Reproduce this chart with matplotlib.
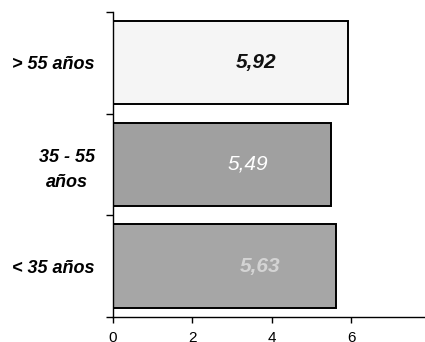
import matplotlib.pyplot as plt

plt.rcParams['font.family'] = ['Liberation Sans', 'DejaVu Sans']

# data, bottom to top
groups = ['< 35 años', '35 - 55\naños', '> 55 años']
values = [5.63, 5.49, 5.92]
value_labels = ['5,63', '5,49', '5,92']

# styling per bar
bar_colors = ['#a6a6a6', '#a0a0a0', '#f5f5f5']
label_colors = ['#d4d4d4', '#ffffff', '#111111']
label_weights = ['bold', 'normal', 'bold']
label_x = [3.7, 3.4, 3.6]

fig = plt.figure(figsize=(4.25, 3.42), dpi=100)
ax = fig.add_axes([0.266, 0.0731, 0.734, 0.892])

pos = list(range(len(groups)))
ax.barh(pos, values, height=0.82, color=bar_colors, edgecolor='black', linewidth=1.4)

for i, txt in enumerate(value_labels):
	ax.text(label_x[i], pos[i], txt, ha='center', va='center', fontsize=15,
			style='italic', weight=label_weights[i], color=label_colors[i])

ax.set_xlim(0, 7.86)
ax.set_ylim(-0.5, 2.5)

ax.set_xticks([0, 2, 4, 6])
ax.tick_params(axis='x', length=4, width=1, pad=6, labelsize=11)

# category labels at centers, tick marks at boundaries
ax.set_yticks(pos)
ax.set_yticklabels(groups, fontsize=13, style='italic', weight='bold',
				   multialignment='center', linespacing=1.6)
ax.tick_params(axis='y', which='major', length=0, pad=13)
ax.set_yticks([-0.5, 0.5, 1.5, 2.5], minor=True)
ax.tick_params(axis='y', which='minor', length=5, width=1)

for s in ['top', 'right']:
	ax.spines[s].set_visible(False)
ax.spines['left'].set_linewidth(1)
ax.spines['bottom'].set_linewidth(1)

fig.savefig('out.png', dpi=100)
